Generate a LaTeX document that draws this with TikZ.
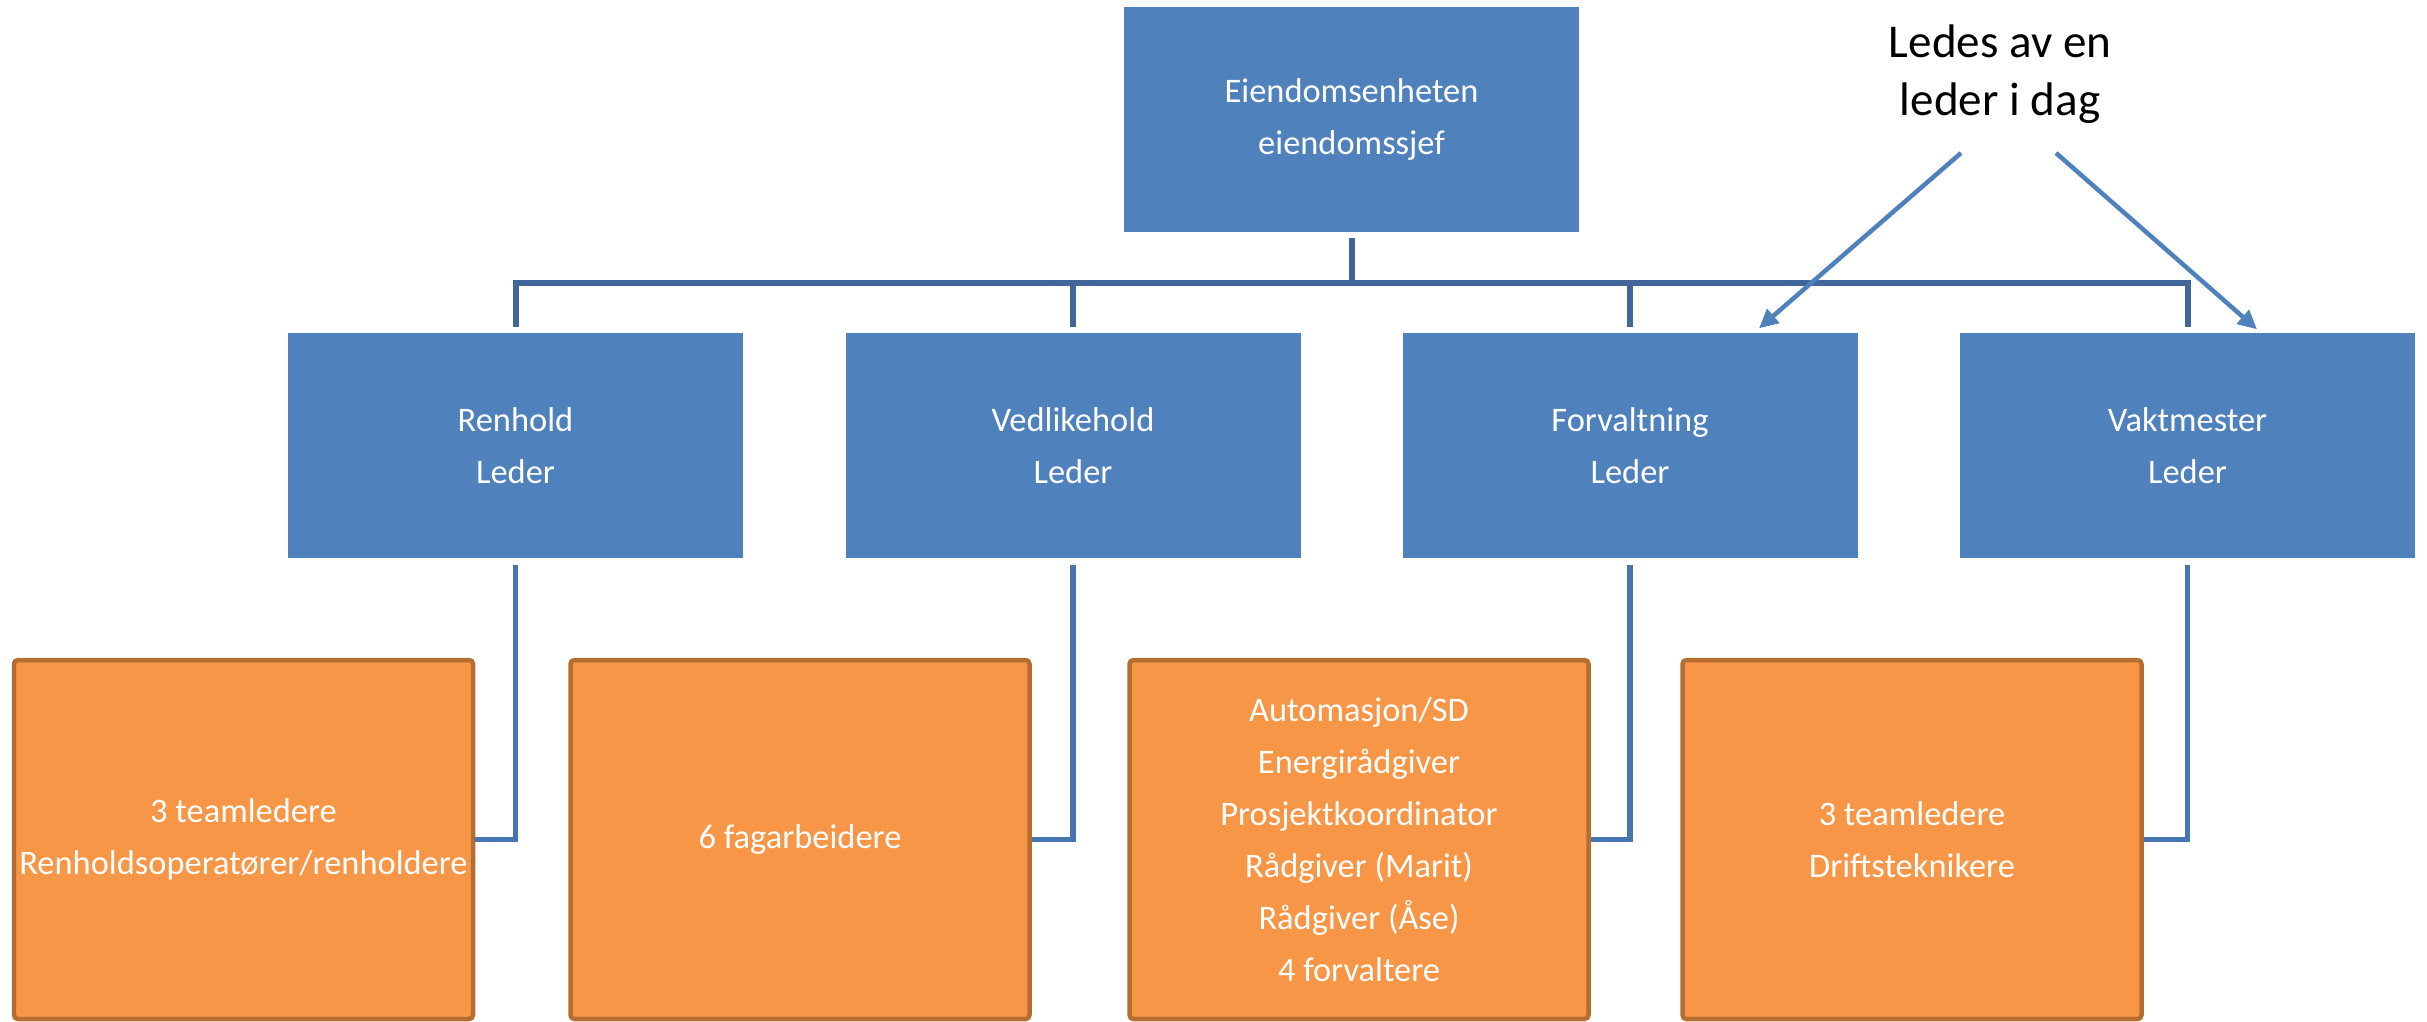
\documentclass[tikz,border=0pt]{standalone}
\usepackage{fontspec}
\setmainfont{Carlito}
\usetikzlibrary{arrows.meta}
\definecolor{boxblue}{HTML}{4F81BD}
\definecolor{linkblue}{HTML}{4675B0}
\definecolor{busblue}{HTML}{41679A}
\definecolor{teamfill}{HTML}{F79646}
\definecolor{teamedge}{HTML}{B66D31}

\begin{document}
\begin{tikzpicture}[
  lead/.style={fill=boxblue,text=white,minimum width=4.55cm,minimum height=2.25cm,inner sep=0pt,align=center,font=\fontsize{9.8}{14.8}\selectfont},
  team/.style={fill=teamfill,draw=teamedge,line width=0.045cm,rounded corners=0.04cm,text=white,minimum width=4.59cm,minimum height=3.59cm,inner sep=0pt,align=center,font=\fontsize{9.8}{14.8}\selectfont},
  bus/.style={draw=busblue,line width=0.06cm},
  link/.style={draw=linkblue,line width=0.052cm},
  hint/.style={-{Triangle[length=0.19cm,width=0.18cm]},draw=boxblue,line width=0.045cm},
  note/.style={align=center,inner sep=0pt,font=\fontsize{13.4}{16.5}\selectfont}]
\useasboundingbox (0,0) rectangle (24.27,-10.22);

% top of the unit
\node[lead] (chief) at (13.515,-1.195) {Eiendomsenheten\\eiendomssjef};
\coordinate (bus) at (13.515,-2.83);
\draw[bus,shorten <=0.05cm] (chief.south) -- (bus);

% the four sections
\foreach \nm/\x/\txt in {ren/5.155/Renhold,ved/10.73/Vedlikehold,forv/16.30/Forvaltning,vakt/21.875/Vaktmester}{
  \node[lead] (\nm) at (\x,-4.455) {\txt\\Leder};
  \draw[bus,shorten >=0.05cm] (bus) -| (\nm.north);}

% staff under each section
\node[team] (renT) at (2.435,-8.395) {3 teamledere\\Renholdsoperatører/renholdere};
\node[team] (vedT) at (8.00,-8.395) {6 fagarbeidere};
\node[team] (forvT) at (13.59,-8.395) {Automasjon/SD\\Energirådgiver\\Prosjektkoordinator\\Rådgiver (Marit)\\Rådgiver (Åse)\\4 forvaltere};
\node[team] (vaktT) at (19.12,-8.395) {3 teamledere\\Driftsteknikere};

\draw[link,shorten <=0.06cm] (ren.south) |- (renT.east);
\draw[link,shorten <=0.06cm] (ved.south) |- (vedT.east);
\draw[link,shorten <=0.06cm] (forv.south) |- (forvT.east);
\draw[link,shorten <=0.06cm] (vakt.south) |- (vaktT.east);

% note
\node[note] (note) at (20.00,-0.74) {Ledes av en\\leder i dag};
\coordinate (noteL) at (19.61,-1.53);
\coordinate (noteR) at (20.56,-1.53);
\draw[hint] (noteL) -- ([xshift=1.29cm,yshift=0.04cm]forv.north);
\draw[hint] (noteR) -- ([xshift=0.695cm,yshift=0.03cm]vakt.north);
\end{tikzpicture}
\end{document}
